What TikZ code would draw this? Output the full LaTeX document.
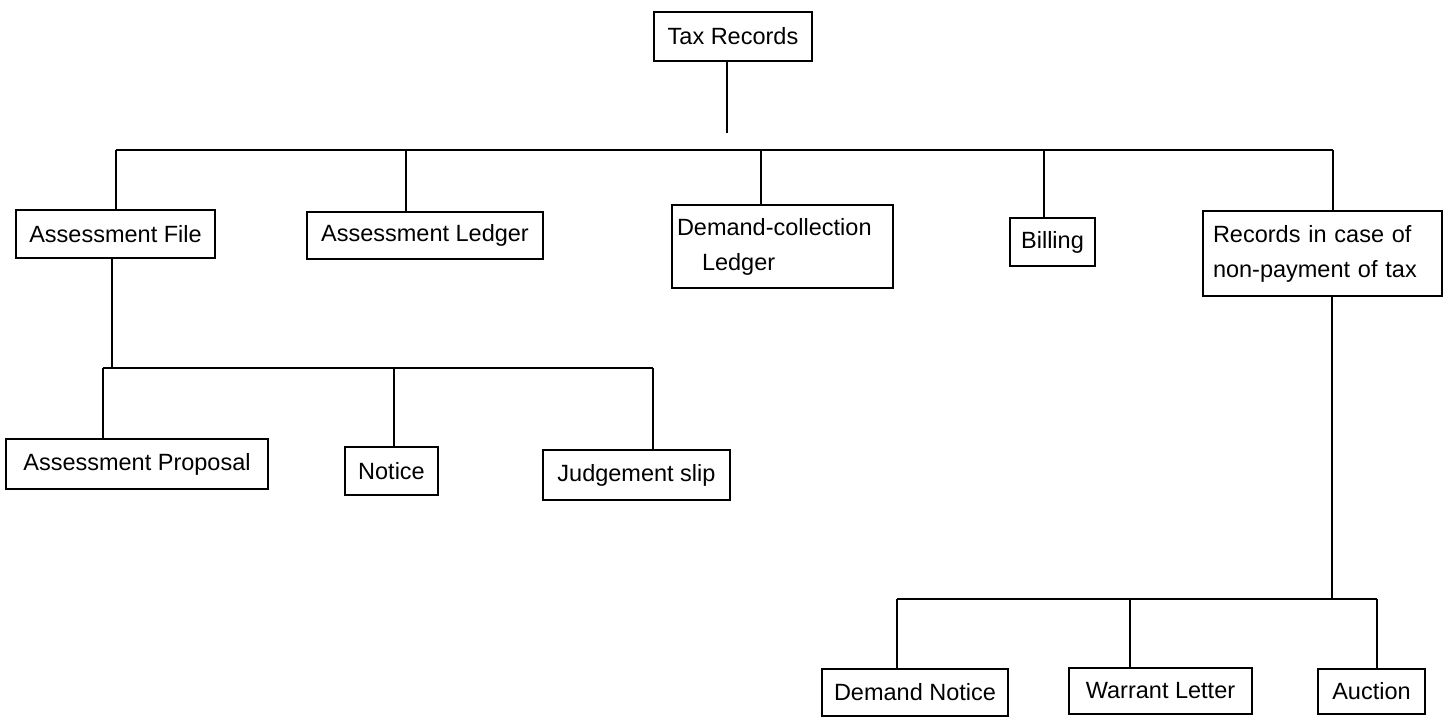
\documentclass[tikz,border=0pt]{standalone}
\usepackage{fontspec}
\setmainfont{Liberation Sans}
\begin{document}
\begin{tikzpicture}[x=1pt,y=-1pt,
  box/.style={draw, line width=1.3pt, inner sep=0pt, font=\fontsize{23.5}{35}\selectfont},
  wbox/.style={box, align=left, inner xsep=#1},
  link/.style={line width=1.3pt}]
\fill[white] (0,0) rectangle (1452,717);
\useasboundingbox (0,0) rectangle (1452,717);
% level 0
\node[box, minimum width=158pt, minimum height=49pt] (tax) at (733,36.5) {Tax Records};
% level 1
\node[box, minimum width=199pt, minimum height=48pt] (af) at (115.5,234) {Assessment File};
\node[box, minimum width=236pt, minimum height=47pt] (al) at (425,235.5) {Assessment Ledger};
\node[wbox=5pt, text width=211pt, minimum height=83pt] (dc) at (782.5,246.5) {Demand-collection\\\hspace*{25pt}Ledger};
\node[box, minimum width=85pt, minimum height=48pt] (bi) at (1052.5,242) {Billing};
\node[wbox=10pt, text width=219pt, minimum height=85pt] (rc) at (1322.5,253.5) {Records in case of\\non-payment of tax};
% level 2 (assessment file)
\node[box, minimum width=262pt, minimum height=50pt] (ap) at (137,464) {Assessment Proposal};
\node[box, minimum width=93pt, minimum height=48pt] (no) at (391.5,471) {Notice};
\node[box, minimum width=187pt, minimum height=50pt] (js) at (636.5,475) {Judgement slip};
% level 2 (records)
\node[box, minimum width=186pt, minimum height=47pt] (dn) at (915,692.5) {Demand Notice};
\node[box, minimum width=183pt, minimum height=46pt] (wl) at (1160.5,691) {Warrant Letter};
\node[box, minimum width=107pt, minimum height=45pt] (au) at (1371.5,691.5) {Auction};
% junction coordinates
\coordinate (taxend) at (727,133);
\coordinate (busL) at (116,150);
\coordinate (busR) at (1333,150);
\coordinate (jal) at (406,150);
\coordinate (jdc) at (761,150);
\coordinate (jbi) at (1044,150);
\coordinate (afdrop) at (112,368);
\coordinate (subL) at (103,368);
\coordinate (jno) at (394,368);
\coordinate (subR) at (653,368);
\coordinate (rcdrop) at (1332,599);
\coordinate (botL) at (897,599);
\coordinate (jwl) at (1130,599);
\coordinate (botR) at (1377,599);
% connectors
\draw[link] (tax.south -| taxend) -- (taxend);
\draw[link] (busL) -- (busR);
\draw[link] (busL) -- (busL |- af.north);
\draw[link] (jal) -- (jal |- al.north);
\draw[link] (jdc) -- (jdc |- dc.north);
\draw[link] (jbi) -- (jbi |- bi.north);
\draw[link] (busR) -- (busR |- rc.north);
\draw[link] (afdrop |- af.south) -- (afdrop);
\draw[link] (subL) -- (subR);
\draw[link] (subL) -- (subL |- ap.north);
\draw[link] (jno) -- (jno |- no.north);
\draw[link] (subR) -- (subR |- js.north);
\draw[link] (rcdrop |- rc.south) -- (rcdrop);
\draw[link] (botL) -- (botR);
\draw[link] (botL) -- (botL |- dn.north);
\draw[link] (jwl) -- (jwl |- wl.north);
\draw[link] (botR) -- (botR |- au.north);
\end{tikzpicture}
\end{document}
